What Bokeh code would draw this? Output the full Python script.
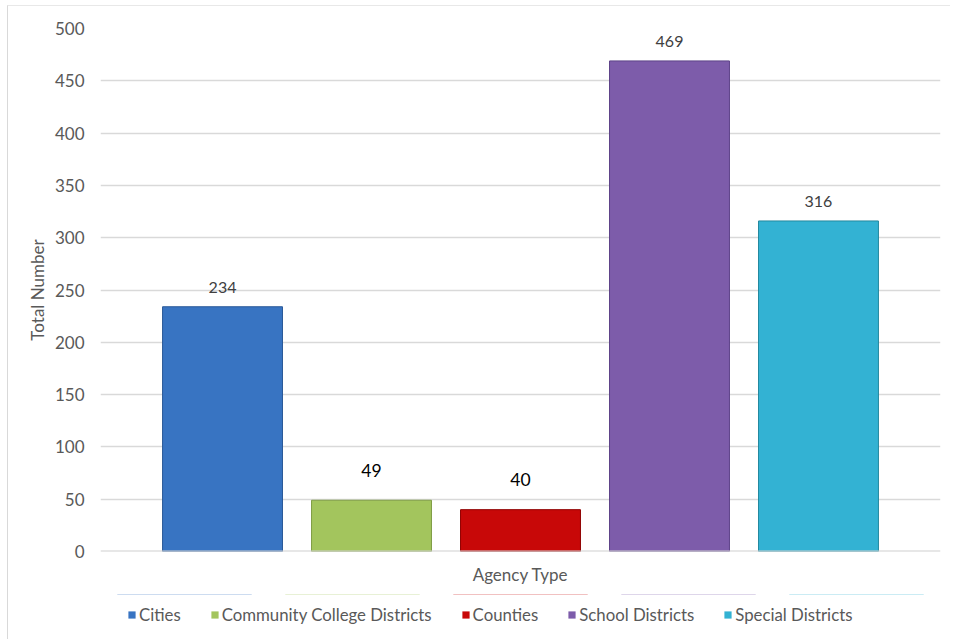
from bokeh.plotting import figure
from bokeh.models import (FactorRange, ColumnDataSource, Legend, LegendItem, SingleIntervalTicker,
                          Range1d, Title, Span)
from bokeh.layouts import column
from bokeh.core.properties import value
from bokeh.embed import file_html
from bokeh.resources import INLINE

categories = ["Cities", "Community College Districts", "Counties", "School Districts", "Special Districts"]
totals = [234, 49, 40, 469, 316]
labels = ["234", "49", "40", "469", "316"]
y_ticks_step = 50
y_max = 500
x_title = "Agency Type"
y_title = "Total Number"

colors = ["#3874c2", "#a3c55d", "#c80808", "#7d5caa", "#33b2d3"]
edge_colors = ["#2a5a98", "#7f9c44", "#900000", "#5d4288", "#23899f"]
label_sizes = ["16px", "17.5px", "17.5px", "16px", "16px"]
label_colors = ["#404040", "#000000", "#000000", "#404040", "#404040"]
label_offsets = [-19, -30, -30, -19, -19]

FONT = "Lato"

p = figure(width=942, height=585, output_backend="svg", toolbar_location=None,
           x_range=FactorRange(factors=categories, range_padding=0.319, range_padding_units="absolute"),
           y_range=Range1d(0, y_max))
p.frame_width = 840
p.frame_height = 523
p.min_border_left = 92
p.min_border_right = 10
p.min_border_top = 22
p.min_border_bottom = 40
p.outline_line_color = None
p.background_fill_color = "white"
p.border_fill_color = "white"

src = ColumnDataSource(dict(cat=categories, val=totals, lab=labels,
                            fs=label_sizes, lc=label_colors, off=label_offsets))

for i, c in enumerate(categories):
    s = ColumnDataSource(dict(cat=[c], val=[totals[i]]))
    p.vbar(x="cat", top="val", width=0.805, source=s, fill_color=colors[i],
           line_color=edge_colors[i], line_width=1)

p.text(x="cat", y="val", text="lab", source=src, text_align="center", text_baseline="middle",
       text_font=value(FONT), text_font_size="fs", text_color="lc", y_offset="off")

p.yaxis.ticker = SingleIntervalTicker(interval=y_ticks_step)
p.yaxis.axis_line_color = None
p.yaxis.major_tick_line_color = None
p.yaxis.minor_tick_line_color = None
p.yaxis.major_label_text_font = FONT
p.yaxis.major_label_text_font_size = "17px"
p.yaxis.major_label_text_color = "#595959"
p.yaxis.major_label_standoff = 10
p.yaxis.axis_label = y_title
p.yaxis.axis_label_text_font = FONT
p.yaxis.axis_label_text_font_size = "17px"
p.yaxis.axis_label_text_font_style = "normal"
p.yaxis.axis_label_text_color = "#595959"
p.yaxis.axis_label_standoff = 4

p.xaxis.visible = False
p.add_layout(Span(location=0, dimension="width", line_color="#d0d0d0", line_width=2))

p.xgrid.grid_line_color = None
p.ygrid.grid_line_color = "#d9d9d9"
p.ygrid.grid_line_width = 1.5

xt = Title(text=x_title, align="center", text_font=FONT, text_font_size="17px",
           text_font_style="normal", text_color="#595959", standoff=20, offset=0)
p.add_layout(xt, "below")

# legend strip below the chart
p2 = figure(width=942, height=45, output_backend="svg", toolbar_location=None,
            x_range=FactorRange(factors=categories), y_range=Range1d(-1000, -999),
            x_axis_location=None, y_axis_location=None)
p2.min_border_left = 0
p2.min_border_right = 0
p2.min_border_top = 0
p2.min_border_bottom = 0
p2.outline_line_color = None
p2.xgrid.grid_line_color = None
p2.ygrid.grid_line_color = None
p2.border_fill_color = "white"

leg_renderers = []
for i, c in enumerate(categories):
    s = ColumnDataSource(dict(cat=[c], val=[totals[i]]))
    r = p2.vbar(x="cat", top="val", width=0.8, source=s, fill_color=colors[i],
                line_color=None)
    leg_renderers.append(r)

legend = Legend(items=[LegendItem(label=c, renderers=[leg_renderers[i]]) for i, c in enumerate(categories)],
                orientation="horizontal", location=(27, 14))
legend.label_text_font = FONT
legend.label_text_font_size = "16.8px"
legend.label_text_color = "#595959"
legend.glyph_width = 9
legend.glyph_height = 9
legend.spacing = 29
legend.label_standoff = 3
legend.border_line_color = None
legend.background_fill_alpha = 0
legend.padding = 0
legend.margin = 0
p2.add_layout(legend, "center")

layout = column(p, p2, spacing=0,
                styles={"border-left": "1px solid #d9d9d9", "border-top": "1px solid #e8e8e8",
                        "margin-left": "7px", "margin-top": "5px"})

open("out.html", "w").write(file_html(layout, INLINE))
